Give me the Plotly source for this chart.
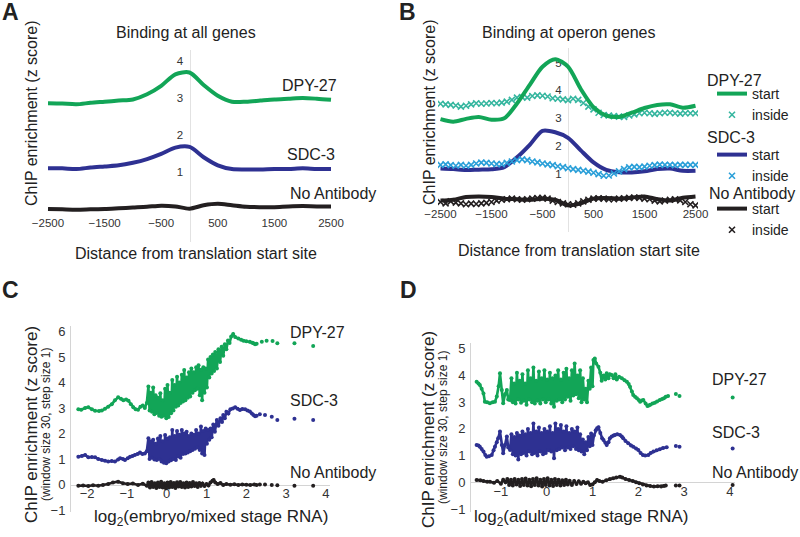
import plotly.graph_objects as go

W, H = 800, 537
FONT = "Liberation Sans, Arial, sans-serif"
GREEN = "#12a557"
TEAL = "#35b69f"
BLUE = "#2e3192"
LBLUE = "#2a9fd8"
BLACK = "#231f20"
AXC = "#d4d4d4"
TXT = "#222222"

# ---------------- Panel A: binding at all genes ----------------
a_x = list(range(-2500, 2501, 250))
a_dpy27 = [2.86, 2.85, 2.83, 2.87, 2.9, 2.93, 2.96, 3.1, 3.33, 3.64, 3.69, 3.35, 3.06, 2.9,
           2.9, 2.93, 2.96, 2.98, 3.0, 2.98, 2.95]
a_sdc3 = [1.1, 1.1, 1.08, 1.12, 1.15, 1.18, 1.25, 1.35, 1.49, 1.66, 1.68, 1.4, 1.18, 1.08,
          1.07, 1.07, 1.08, 1.08, 1.1, 1.08, 1.08]
a_noab = [0.0, -0.01, -0.02, -0.01, 0.0, 0.02, 0.04, 0.06, 0.09, 0.07, 0.01, 0.1, 0.14, 0.1,
          0.06, 0.05, 0.05, 0.07, 0.08, 0.07, 0.07]
a_xticks = [-2500, -1500, -500, 500, 1500, 2500]

# ---------------- Panel B: binding at operon genes ----------------
b_x_start = list(range(-2500, 2501, 250))
b_x_inside = list(range(-2500, 2501, 100))
b_dpy27_start = [2.97, 2.88, 2.98, 3.05, 2.95, 3.0, 3.53, 4.2, 4.85, 5.12, 4.85, 4.05, 3.4,
                 3.1, 3.05, 3.2, 3.37, 3.48, 3.5, 3.38, 3.45]
b_dpy27_inside = [3.52, 3.5, 3.48, 3.46, 3.42, 3.45, 3.5, 3.54, 3.52, 3.53, 3.55, 3.54, 3.56,
                  3.6, 3.66, 3.74, 3.76, 3.74, 3.8, 3.82, 3.81, 3.78, 3.72, 3.7, 3.68, 3.65,
                  3.7, 3.66, 3.55, 3.42, 3.32, 3.2, 3.12, 3.1, 3.08, 3.06, 3.05, 3.1, 3.14,
                  3.18, 3.2, 3.18, 3.16, 3.18, 3.2, 3.2, 3.18, 3.17, 3.18, 3.18, 3.18]
b_sdc3_start = [1.2, 1.18, 1.15, 1.16, 1.17, 1.25, 1.6, 2.05, 2.55, 2.5, 2.3, 1.85, 1.42,
                1.15, 1.07, 1.06, 1.1, 1.18, 1.2, 1.12, 1.12]
b_sdc3_inside = [1.33, 1.35, 1.32, 1.3, 1.33, 1.3, 1.33, 1.38, 1.41, 1.4, 1.38, 1.36, 1.36,
                 1.4, 1.45, 1.5, 1.53, 1.5, 1.45, 1.42, 1.38, 1.35, 1.32, 1.28, 1.25, 1.21,
                 1.18, 1.15, 1.12, 1.09, 1.05, 1.0, 0.94, 0.95, 1.02, 1.1, 1.18, 1.24, 1.26,
                 1.25, 1.27, 1.3, 1.32, 1.34, 1.33, 1.33, 1.32, 1.33, 1.33, 1.33, 1.33]
b_noab_start = [0.05, 0.08, 0.18, 0.2, 0.18, 0.12, 0.1, 0.08, 0.12, 0.08, -0.12, -0.05, 0.12,
                0.14, 0.12, 0.16, 0.2, 0.1, 0.05, 0.15, 0.2]
b_noab_inside = [0.0, -0.05, 0.02, -0.02, -0.05, -0.08, -0.06, -0.07, -0.05, -0.03, 0.0, 0.05,
                 0.08, 0.1, 0.12, 0.1, 0.08, 0.1, 0.12, 0.14, 0.15, 0.12, 0.05, 0.0, -0.05,
                 -0.08, -0.1, -0.05, 0.02, 0.08, 0.12, 0.13, 0.12, 0.1, 0.1, 0.12, 0.13, 0.15,
                 0.16, 0.15, 0.12, 0.1, 0.05, 0.02, 0.05, 0.08, 0.1, 0.06, 0.0, -0.08, -0.12]
b_xticks = [-2500, -1500, -500, 500, 1500, 2500]

# ---------------- Panel C: embryo / mixed stage RNA ----------------
c_dpy27_x = [-2.22, -2.15, -2.05, -1.97, -1.88, -1.8, -1.7, -1.63, -1.55, -1.47, -1.38, -1.3,
             -1.22, -1.15, -1.09, -1.02, -0.96, -0.9, -0.84, -0.78, -0.72, -0.66, -0.6, -0.55,
             -0.5, -0.46, -0.43, -0.4, -0.37, -0.34, -0.31, -0.28, -0.25, -0.22, -0.19, -0.16,
             -0.13, -0.1, -0.07, -0.04, -0.01, 0.02, 0.05, 0.08, 0.11, 0.14, 0.17, 0.2, 0.23,
             0.26, 0.29, 0.32, 0.35, 0.38, 0.41, 0.44, 0.47, 0.5, 0.53, 0.56, 0.59, 0.62, 0.65,
             0.68, 0.71, 0.74, 0.77, 0.8, 0.83, 0.86, 0.89, 0.92, 0.95, 0.98, 1.01, 1.04, 1.07,
             1.1, 1.13, 1.16, 1.19, 1.22, 1.26, 1.3, 1.34, 1.38, 1.42, 1.46, 1.5, 1.54, 1.58,
             1.62, 1.67, 1.72, 1.8, 1.87, 1.93, 2.0, 2.09, 2.15, 2.18, 2.22, 2.26]
c_dpy27_y = [2.95, 2.93, 3.0, 3.03, 2.95, 2.89, 2.88, 2.9, 2.97, 3.05, 3.15, 3.3, 3.42, 3.36,
             3.3, 3.33, 3.28, 3.15, 3.03, 2.95, 2.93, 3.05, 3.1, 3.0, 3.2, 3.84, 2.9, 3.6, 2.85,
             3.8, 2.75, 3.5, 2.8, 3.4, 2.7, 3.58, 2.66, 3.3, 2.7, 3.75, 2.6, 3.9, 2.65, 3.6,
             2.79, 4.1, 2.9, 3.9, 3.05, 4.23, 3.1, 4.0, 3.2, 4.3, 3.25, 4.49, 3.3, 4.2, 3.4,
             4.4, 3.45, 4.55, 3.6, 4.4, 3.7, 4.6, 3.75, 4.68, 3.5, 4.5, 3.3, 4.6, 3.6, 4.55,
             3.8, 4.9, 4.2, 5.0, 4.35, 5.1, 4.45, 5.2, 4.55, 5.3, 4.8, 5.4, 5.05, 5.5, 5.3,
             5.65, 5.55, 5.8, 5.9, 5.78, 5.73, 5.68, 5.64, 5.62, 5.6, 5.56, 5.54, 5.5, 5.52]
c_dpy27_tail_x = [2.39, 2.51, 2.66, 2.78, 3.21, 3.68]
c_dpy27_tail_y = [5.6, 5.64, 5.63, 5.54, 5.54, 5.43]

c_sdc3_x = [-2.22, -2.13, -2.05, -1.97, -1.88, -1.8, -1.72, -1.63, -1.55, -1.47, -1.38, -1.3,
            -1.22, -1.17, -1.1, -1.05, -0.98, -0.92, -0.86, -0.8, -0.73, -0.67, -0.61, -0.55,
            -0.5, -0.46, -0.43, -0.4, -0.37, -0.34, -0.31, -0.28, -0.25, -0.22, -0.19, -0.16,
            -0.13, -0.1, -0.07, -0.04, -0.01, 0.02, 0.05, 0.08, 0.11, 0.14, 0.17, 0.2, 0.23,
            0.26, 0.29, 0.32, 0.35, 0.38, 0.41, 0.44, 0.47, 0.5, 0.53, 0.56, 0.59, 0.62, 0.65,
            0.68, 0.71, 0.74, 0.77, 0.8, 0.83, 0.86, 0.89, 0.92, 0.95, 0.98, 1.01, 1.04, 1.07,
            1.1, 1.13, 1.17, 1.21, 1.26, 1.3, 1.35, 1.39, 1.42, 1.46, 1.5, 1.55, 1.6, 1.66,
            1.72, 1.78, 1.84, 1.9, 1.97, 2.03, 2.09, 2.14, 2.18, 2.22, 2.26]
c_sdc3_y = [1.09, 1.12, 1.16, 1.07, 1.08, 1.07, 1.0, 0.96, 0.93, 0.9, 0.92, 0.9, 0.98, 1.03,
            1.0, 0.96, 1.03, 1.09, 1.12, 1.16, 1.2, 1.25, 1.2, 1.22, 1.3, 1.81, 1.0, 1.7, 1.05,
            1.75, 0.98, 1.6, 0.96, 1.8, 1.0, 1.9, 0.9, 1.7, 0.85, 1.94, 0.83, 1.8, 0.9, 1.85,
            0.95, 2.14, 1.0, 1.9, 0.96, 2.1, 1.1, 1.95, 1.05, 2.14, 1.2, 2.0, 1.22, 2.07, 1.25,
            1.9, 1.3, 2.0, 1.35, 1.95, 1.4, 2.14, 1.45, 2.0, 1.35, 2.27, 1.22, 2.1, 1.16, 2.2,
            1.6, 2.14, 1.75, 2.2, 1.85, 2.35, 2.07, 2.53, 2.3, 2.6, 2.45, 2.73, 2.6, 2.85, 2.78,
            2.95, 2.98, 3.03, 2.97, 2.92, 2.96, 2.95, 2.9, 2.86, 2.78, 2.73, 2.68, 2.7]
c_sdc3_tail_x = [2.34, 2.47, 2.64, 2.78, 3.21, 3.68]
c_sdc3_tail_y = [2.75, 2.73, 2.66, 2.53, 2.58, 2.53]

c_noab_x = [-2.22, -2.1, -1.97, -1.85, -1.72, -1.6, -1.47, -1.35, -1.22, -1.1, -0.98, -0.85,
            -0.72, -0.6, -0.5, -0.46, -0.42, -0.38, -0.34, -0.3, -0.26, -0.22, -0.18, -0.14,
            -0.1, -0.06, -0.02, 0.02, 0.06, 0.1, 0.14, 0.18, 0.22, 0.26, 0.3, 0.34, 0.38, 0.42,
            0.46, 0.5, 0.54, 0.58, 0.62, 0.66, 0.7, 0.74, 0.78, 0.82, 0.86, 0.9, 0.95, 1.0,
            1.05, 1.1, 1.15, 1.18, 1.22, 1.28, 1.35, 1.42, 1.5, 1.6, 1.7, 1.8, 1.9, 2.0, 2.1,
            2.2, 2.26]
c_noab_y = [-0.05, -0.04, -0.06, -0.03, -0.05, -0.02, 0.02, 0.08, 0.11, 0.05, 0.02, 0.04,
            -0.02, 0.03, -0.05, 0.08, -0.12, 0.1, -0.1, 0.05, -0.14, 0.08, -0.1, 0.11, -0.12,
            0.05, -0.15, 0.08, -0.12, 0.1, -0.1, 0.06, -0.14, 0.09, -0.08, 0.1, -0.1, 0.05,
            -0.12, 0.08, -0.1, 0.06, -0.08, 0.1, -0.06, 0.05, -0.1, 0.06, -0.05, 0.04, -0.06,
            0.02, -0.04, 0.08, 0.15, 0.18, 0.08, 0.02, 0.06, -0.02, 0.02, -0.01, 0.01, -0.02,
            0.0, -0.01, -0.02, 0.0, -0.02]
c_noab_tail_x = [2.34, 2.47, 2.64, 2.78, 3.21, 3.68]
c_noab_tail_y = [0.0, 0.0, -0.02, -0.03, -0.05, -0.05]
c_xticks = [-2, -1, 0, 1, 2, 3, 4]
c_yticks = [-1, 0, 1, 2, 3, 4, 5, 6]

# ---------------- Panel D: adult / mixed stage RNA ----------------
d_dpy27_x = [-1.53, -1.49, -1.46, -1.42, -1.38, -1.35, -1.3, -1.24, -1.18, -1.13, -1.09, -1.05,
             -1.02, -0.98, -0.95, -0.91, -0.87, -0.84, -0.8, -0.77, -0.74, -0.71, -0.68, -0.65,
             -0.62, -0.59, -0.56, -0.53, -0.5, -0.47, -0.44, -0.41, -0.38, -0.35, -0.32, -0.29,
             -0.26, -0.23, -0.2, -0.17, -0.14, -0.11, -0.08, -0.05, -0.02, 0.01, 0.04, 0.07,
             0.1, 0.13, 0.16, 0.19, 0.22, 0.25, 0.28, 0.31, 0.34, 0.37, 0.4, 0.43, 0.46, 0.49,
             0.52, 0.55, 0.58, 0.61, 0.64, 0.67, 0.7, 0.73, 0.76, 0.79, 0.82, 0.85, 0.88, 0.91,
             0.94, 0.97, 1.0, 1.02, 1.05, 1.08, 1.13, 1.17, 1.2, 1.24, 1.28, 1.31, 1.35, 1.38,
             1.42, 1.46, 1.5, 1.53, 1.58, 1.64, 1.7, 1.75, 1.79, 1.82, 1.86, 1.89, 1.93, 1.97,
             2.01, 2.04, 2.08, 2.11, 2.16, 2.2, 2.23, 2.26, 2.31, 2.36, 2.41, 2.47, 2.52, 2.56,
             2.6, 2.65]
d_dpy27_y = [3.77, 3.7, 3.64, 3.5, 3.33, 3.02, 3.0, 2.96, 3.0, 3.02, 3.21, 3.6, 4.08, 3.46,
             2.96, 3.3, 3.46, 3.1, 3.08, 3.9, 3.0, 3.7, 2.95, 4.1, 3.1, 3.8, 2.98, 4.05, 3.05,
             3.7, 2.9, 4.2, 3.1, 3.9, 3.0, 4.3, 2.95, 3.8, 3.05, 4.15, 2.95, 3.9, 3.1, 4.2, 3.0,
             3.85, 3.1, 4.1, 2.95, 3.9, 2.83, 4.0, 3.05, 4.2, 3.1, 3.85, 3.0, 4.1, 3.1, 4.25,
             3.2, 3.9, 3.05, 4.2, 3.25, 4.45, 3.3, 4.0, 3.15, 4.2, 3.0, 3.9, 3.1, 3.5, 3.0, 3.8,
             3.5, 4.3, 3.6, 4.58, 4.64, 4.45, 4.33, 4.1, 3.8, 4.0, 3.85, 4.08, 3.9, 4.05, 4.02,
             3.9, 4.05, 3.85, 3.95, 3.9, 3.82, 3.77, 3.68, 3.58, 3.4, 3.27, 3.2, 3.15, 3.08,
             3.02, 3.06, 3.08, 2.95, 2.86, 2.88, 2.9, 2.95, 2.98, 3.03, 3.08, 3.12, 3.15, 3.2,
             3.23]
d_dpy27_tail_x = [2.82, 2.9, 4.06]
d_dpy27_tail_y = [3.31, 3.23, 3.18]

d_sdc3_x = [-1.53, -1.49, -1.46, -1.42, -1.38, -1.34, -1.31, -1.26, -1.2, -1.16, -1.13, -1.09,
            -1.06, -1.02, -0.98, -0.95, -0.91, -0.87, -0.84, -0.8, -0.77, -0.74, -0.71, -0.68,
            -0.65, -0.62, -0.59, -0.56, -0.53, -0.5, -0.47, -0.44, -0.41, -0.38, -0.35, -0.32,
            -0.29, -0.26, -0.23, -0.2, -0.17, -0.14, -0.11, -0.08, -0.05, -0.02, 0.01, 0.04,
            0.07, 0.1, 0.13, 0.16, 0.19, 0.22, 0.25, 0.28, 0.31, 0.34, 0.37, 0.4, 0.43, 0.46,
            0.49, 0.52, 0.55, 0.58, 0.61, 0.64, 0.67, 0.7, 0.73, 0.76, 0.79, 0.82, 0.85, 0.88,
            0.91, 0.94, 0.97, 1.0, 1.03, 1.07, 1.1, 1.13, 1.17, 1.21, 1.24, 1.28, 1.31, 1.35,
            1.38, 1.42, 1.46, 1.49, 1.54, 1.6, 1.64, 1.67, 1.72, 1.78, 1.84, 1.89, 1.95, 2.0,
            2.05, 2.1, 2.15, 2.22, 2.27, 2.33, 2.4, 2.47, 2.54, 2.62]
d_sdc3_y = [1.4, 1.38, 1.33, 1.25, 1.15, 1.02, 0.96, 0.98, 1.02, 1.2, 1.33, 1.5, 1.65, 1.9,
            1.4, 1.09, 1.4, 1.72, 1.3, 1.21, 1.8, 1.05, 1.7, 1.0, 1.85, 0.85, 1.75, 1.05, 1.9,
            1.1, 1.8, 1.0, 2.0, 1.15, 1.85, 1.05, 2.2, 1.1, 1.9, 1.0, 2.05, 1.15, 1.85, 1.05,
            2.0, 1.1, 1.9, 1.2, 2.1, 1.15, 1.85, 0.9, 2.2, 1.2, 2.0, 1.25, 2.15, 1.3, 1.9, 1.2,
            2.1, 1.3, 1.85, 1.25, 2.0, 1.35, 1.9, 1.25, 2.05, 1.2, 1.8, 1.15, 1.6, 1.05, 1.5,
            1.2, 1.7, 1.35, 1.83, 1.4, 1.75, 1.95, 2.02, 2.06, 1.85, 1.65, 1.58, 1.48, 1.4, 1.5,
            1.65, 1.72, 1.75, 1.77, 1.8, 1.77, 1.72, 1.65, 1.55, 1.46, 1.38, 1.33, 1.27, 1.21,
            1.1, 1.02, 1.0, 1.02, 1.1, 1.15, 1.2, 1.24, 1.28, 1.31]
d_sdc3_tail_x = [2.82, 2.9, 4.06]
d_sdc3_tail_y = [1.36, 1.33, 1.27]

d_noab_x = [-1.53, -1.45, -1.38, -1.3, -1.24, -1.15, -1.08, -1.0, -0.95, -0.9, -0.86, -0.82,
            -0.78, -0.74, -0.7, -0.66, -0.62, -0.58, -0.54, -0.5, -0.46, -0.42, -0.38, -0.34,
            -0.3, -0.26, -0.22, -0.18, -0.14, -0.1, -0.06, -0.02, 0.02, 0.06, 0.1, 0.14, 0.18,
            0.22, 0.26, 0.3, 0.34, 0.38, 0.42, 0.46, 0.5, 0.55, 0.6, 0.65, 0.7, 0.75, 0.8,
            0.85, 0.9, 0.95, 1.0, 1.05, 1.1, 1.15, 1.22, 1.3, 1.38, 1.45, 1.52, 1.6, 1.65,
            1.72, 1.8, 1.88, 1.95, 2.02, 2.1, 2.18, 2.26, 2.34, 2.42, 2.5, 2.56, 2.6]
d_noab_y = [0.09, 0.08, 0.05, 0.02, 0.02, -0.02, 0.05, -0.05, 0.1, 0.0, 0.12, -0.1, 0.1,
            -0.12, 0.12, -0.08, 0.1, -0.14, 0.12, -0.1, 0.14, -0.12, 0.1, -0.15, 0.12, -0.1,
            0.15, -0.12, 0.1, -0.16, 0.12, -0.1, 0.15, -0.12, 0.1, -0.14, 0.12, -0.1, 0.1,
            -0.12, 0.08, -0.1, 0.1, -0.08, 0.06, -0.1, 0.05, -0.06, 0.04, -0.05, 0.02, -0.04,
            0.0, -0.1, -0.08, 0.0, 0.09, 0.05, 0.02, 0.08, 0.12, 0.15, 0.18, 0.21, 0.18, 0.12,
            0.09, 0.05, 0.0, -0.04, -0.08, -0.12, -0.14, -0.16, -0.15, -0.16, -0.14, -0.12]
d_noab_tail_x = [2.82, 2.9, 4.06]
d_noab_tail_y = [-0.12, -0.12, -0.1]
d_xticks = [-1, 0, 1, 2, 3, 4]
d_yticks = [-1, 0, 1, 2, 3, 4, 5]


# ---------------- helpers: pixel geometry -> paper/axis ranges ----------------
def fx(px):
    return px / W


def fy(py):
    return 1 - py / H


def xrange_px(lo, hi, origin, scale):
    return [(lo - origin) / scale, (hi - origin) / scale]


def yrange_px(top, bottom, origin, scale):
    return [(origin - bottom) / scale, (origin - top) / scale]


tickfont_small = dict(family=FONT, size=11.5, color="#333333")
tickfont_big = dict(family=FONT, size=13, color="#333333")

fig = go.Figure()


def line_trace(x, y, color, xa, ya, width=4, **kw):
    return go.Scatter(x=x, y=y, mode="lines", line=dict(color=color, width=width, shape="spline",
                      smoothing=0.8), xaxis=xa, yaxis=ya, hoverinfo="skip", **kw)


def cross_trace(x, y, color, xa, ya, **kw):
    return go.Scatter(x=x, y=y, mode="markers",
                      marker=dict(symbol="x-thin-open", size=6, color=color,
                                  line=dict(color=color, width=1.6)),
                      xaxis=xa, yaxis=ya, hoverinfo="skip", **kw)


def dot_trace(x, y, color, xa, ya, lines=True):
    return go.Scatter(x=x, y=y, mode="lines+markers" if lines else "markers",
                      line=dict(color=color, width=2.6),
                      marker=dict(size=4, color=color),
                      xaxis=xa, yaxis=ya, hoverinfo="skip", showlegend=False)


# Panel A
fig.add_trace(line_trace(a_x, a_dpy27, GREEN, "x", "y", showlegend=False))
fig.add_trace(line_trace(a_x, a_sdc3, BLUE, "x", "y", showlegend=False))
fig.add_trace(line_trace(a_x, a_noab, BLACK, "x", "y", showlegend=False))

# Panel B (one small legend per antibody)
fig.add_trace(cross_trace(b_x_inside, b_dpy27_inside, TEAL, "x2", "y2", name="inside",
                          legend="legend", legendrank=2))
fig.add_trace(line_trace(b_x_start, b_dpy27_start, GREEN, "x2", "y2", name="start",
                         legend="legend", legendrank=1))
fig.add_trace(line_trace(b_x_start, b_sdc3_start, BLUE, "x2", "y2", name="start",
                         legend="legend2", legendrank=1))
fig.add_trace(cross_trace(b_x_inside, b_sdc3_inside, LBLUE, "x2", "y2", name="inside",
                          legend="legend2", legendrank=2))
fig.add_trace(line_trace(b_x_start, b_noab_start, BLACK, "x2", "y2", name="start",
                         legend="legend3", legendrank=1))
fig.add_trace(cross_trace(b_x_inside, b_noab_inside, BLACK, "x2", "y2", name="inside",
                          legend="legend3", legendrank=2))

# Panel C
for xs, ys, tx, ty, col in [(c_dpy27_x, c_dpy27_y, c_dpy27_tail_x, c_dpy27_tail_y, GREEN),
                            (c_sdc3_x, c_sdc3_y, c_sdc3_tail_x, c_sdc3_tail_y, BLUE),
                            (c_noab_x, c_noab_y, c_noab_tail_x, c_noab_tail_y, BLACK)]:
    fig.add_trace(dot_trace(xs, ys, col, "x3", "y3"))
    fig.add_trace(dot_trace(tx, ty, col, "x3", "y3", lines=False))

# Panel D
for xs, ys, tx, ty, col in [(d_dpy27_x, d_dpy27_y, d_dpy27_tail_x, d_dpy27_tail_y, GREEN),
                            (d_sdc3_x, d_sdc3_y, d_sdc3_tail_x, d_sdc3_tail_y, BLUE),
                            (d_noab_x, d_noab_y, d_noab_tail_x, d_noab_tail_y, BLACK)]:
    fig.add_trace(dot_trace(xs, ys, col, "x4", "y4"))
    fig.add_trace(dot_trace(tx, ty, col, "x4", "y4", lines=False))

common = dict(showgrid=False, zeroline=False, ticks="", layer="below traces", automargin=False)


def legend_at(top):
    return dict(x=fx(712), y=fy(top), xanchor="left", yanchor="top",
                font=dict(family=FONT, size=14, color=TXT), bgcolor="rgba(0,0,0,0)",
                borderwidth=0, tracegroupgap=0, itemwidth=30, traceorder="normal")


fig.update_layout(
    width=W, height=H, margin=dict(l=0, r=0, t=0, b=0, pad=0, autoexpand=False),
    paper_bgcolor="white", plot_bgcolor="white", hovermode=False,
    font=dict(family=FONT, color=TXT),
    # A
    xaxis=dict(domain=[fx(47), fx(332)], range=xrange_px(47, 332, 189.5, 0.0566),
               anchor="free", position=fy(214), showline=False, tickvals=a_xticks,
               tickfont=tickfont_small, **common),
    yaxis=dict(domain=[fy(242), fy(50)], range=yrange_px(50, 242, 209, 37),
               anchor="free", position=fx(189.5), showline=True, linecolor="#e2e2e2",
               linewidth=1, tickvals=[1, 2, 3, 4], tickfont=tickfont_small,
               ticklabelstandoff=4, **common),
    # B
    xaxis2=dict(domain=[fx(438), fx(698)], range=xrange_px(438, 698, 568, 0.051),
                anchor="free", position=fy(205), showline=False, tickvals=b_xticks,
                tickfont=tickfont_small, **common),
    yaxis2=dict(domain=[fy(232), fy(48)], range=yrange_px(48, 232, 202, 27.9),
                anchor="free", position=fx(568), showline=True, linecolor="#e2e2e2",
                linewidth=1, tickvals=[1, 2, 3, 4, 5], tickfont=tickfont_small,
                ticklabelstandoff=4, **common),
    # C
    xaxis3=dict(domain=[fx(71), fx(330)], range=xrange_px(71, 330, 166.7, 39.8),
                anchor="free", position=fy(484.5), showline=True, linecolor=AXC,
                tickvals=c_xticks, tickfont=tickfont_big, ticklabelstandoff=-3, **common),
    yaxis3=dict(domain=[fy(512), fy(326)], range=yrange_px(326, 512, 484.5, 25.5),
                anchor="x3", showline=True, linecolor=AXC, tickvals=c_yticks,
                tickfont=tickfont_big, ticklabelstandoff=2, **common),
    # D
    xaxis4=dict(domain=[fx(471), fx(735)], range=xrange_px(471, 735, 546.7, 45.8),
                anchor="free", position=fy(482.3), showline=True, linecolor=AXC,
                tickvals=d_xticks, tickfont=tickfont_big, ticklabelstandoff=-3, **common),
    yaxis4=dict(domain=[fy(512), fy(343)], range=yrange_px(343, 512, 482.3, 26.7),
                anchor="x4", showline=True, linecolor=AXC, tickvals=d_yticks,
                tickfont=tickfont_big, ticklabelstandoff=2, **common),
    legend=legend_at(78),
    legend2=legend_at(139),
    legend3=legend_at(193),
    showlegend=True,
)

ann = []


def text(x, y, s, size=16, xanchor="center", angle=0, bold=False):
    ann.append(dict(x=fx(x), y=fy(y), xref="paper", yref="paper", text=("<b>%s</b>" % s) if bold else s,
                    showarrow=False, xanchor=xanchor, yanchor="middle", textangle=angle,
                    font=dict(family=FONT, size=size, color=TXT)))


# panel letters
text(10, 12, "A", 23, bold=True)
text(407, 12, "B", 23, bold=True)
text(10, 290, "C", 23, bold=True)
text(408, 290, "D", 23, bold=True)
# titles
text(186, 32, "Binding at all genes")
text(568, 32, "Binding at operon genes")
# axis titles
text(32, 113, "ChIP enrichment (z score)", 16, angle=-90)
text(196, 253, "Distance from translation start site", 16)
text(429, 112, "ChIP enrichment (z score)", 16, angle=-90)
text(579, 250, "Distance from translation start site", 16)
text(31, 425, "ChIP enrichment (z score)", 17, angle=-90)
text(46, 425, "(window size 30, step size 1)", 12, angle=-90)
text(211, 518, "log<sub>2</sub>(embryo/mixed stage RNA)", 17)
text(428, 430, "ChIP enrichment (z score)", 17, angle=-90)
text(443, 428, "(window size 30, step size 1)", 12, angle=-90)
text(581, 518, "log<sub>2</sub>(adult/mixed stage RNA)", 17)
# series labels A
text(280, 85, "DPY-27", xanchor="left")
text(285, 154, "SDC-3", xanchor="left")
text(288, 193, "No Antibody", xanchor="left")
# legend group titles B
text(705, 80, "DPY-27", xanchor="left")
text(705, 137, "SDC-3", xanchor="left")
text(707, 193, "No Antibody", xanchor="left")
# series labels C
text(288, 332, "DPY-27", xanchor="left")
text(288, 400, "SDC-3", xanchor="left")
text(288, 472, "No Antibody", xanchor="left")
# series labels D
text(710, 379, "DPY-27", xanchor="left")
text(710, 432, "SDC-3", xanchor="left")
text(710, 472, "No Antibody", xanchor="left")

fig.update_layout(annotations=ann)
fig.write_html("out.html", config={"displayModeBar": False, "staticPlot": True},
               post_script="document.body.style.margin='0px';")
